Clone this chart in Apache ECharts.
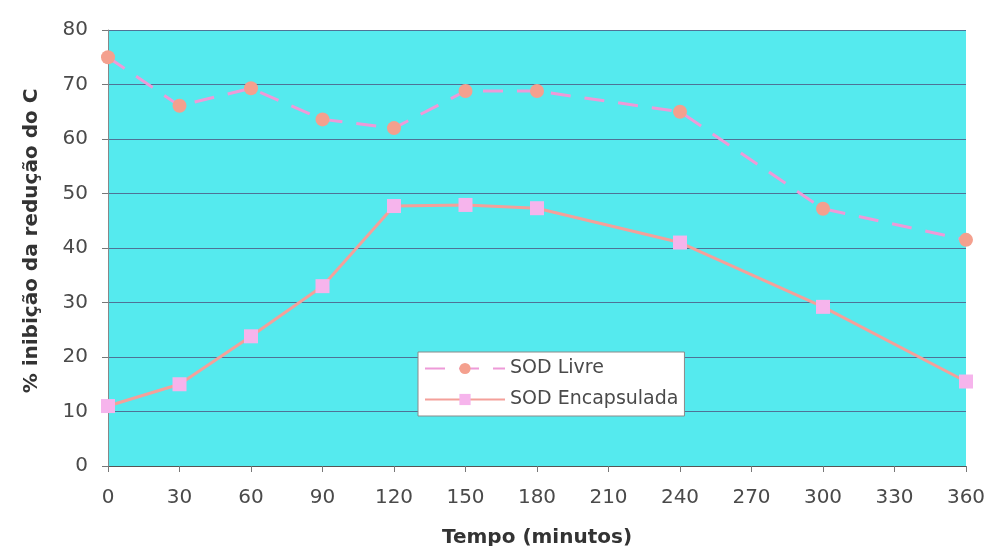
<!DOCTYPE html>
<html>
<head>
<meta charset="utf-8">
<script src="https://cdn.jsdelivr.net/npm/echarts@6/dist/echarts.min.js"></script>
<style>html,body{margin:0;padding:0;background:#fff;}#c{width:987px;height:546px;}</style>
</head>
<body>
<div id="c"></div>
<script>
var minutes = [0, 30, 60, 90, 120, 150, 180, 240, 300, 360];
var sodLivre = [75.0, 66.1, 69.3, 63.6, 62.0, 68.8, 68.8, 65.0, 47.2, 41.5];
var sodEncapsulada = [11.0, 15.0, 23.8, 33.0, 47.7, 47.9, 47.3, 41.0, 29.2, 15.5];
var seriesNames = ['SOD Livre', 'SOD Encapsulada'];
var xTitle = 'Tempo (minutos)';
var yTitle = '% inibição da redução do C';

function pairs(xs, ys) { return xs.map(function (x, i) { return [x, ys[i]]; }); }

var chart = echarts.init(document.getElementById('c'));
var font = 'DejaVu Sans, sans-serif';
chart.setOption({
  animation: false,
  backgroundColor: '#ffffff',
  textStyle: { fontFamily: font },
  grid: { left: 108, right: 21, top: 30, bottom: 80, show: true, backgroundColor: '#55eaee', borderWidth: 0, outerBoundsMode: 'none', containLabel: false },
  legend: {
    orient: 'vertical', left: 418, top: 352,
    backgroundColor: '#ffffff', borderColor: '#8a8a8a', borderWidth: 1,
    padding: [7, 6, 7, 6], itemGap: 12, itemWidth: 80, itemHeight: 14,
    textStyle: { fontSize: 19, color: '#4a4a4a', fontFamily: font, padding: [0, 0, 0, 0] },
    data: seriesNames
  },
  xAxis: {
    type: 'value', min: 0, max: 360, interval: 30,
    name: xTitle, nameLocation: 'middle', nameGap: 62,
    nameTextStyle: { fontSize: 20, fontWeight: 'bold', color: '#333', fontFamily: font },
    axisLine: { show: true, lineStyle: { color: '#555', width: 1 } },
    axisTick: { show: true, length: 6, lineStyle: { color: '#777' } },
    axisLabel: { fontSize: 20, color: '#4a4a4a', margin: 22, fontFamily: font },
    splitLine: { show: false }
  },
  yAxis: {
    type: 'value', min: 0, max: 80, interval: 10,
    name: yTitle, nameLocation: 'middle', nameGap: 66, nameRotate: 90,
    nameTextStyle: { fontSize: 20, fontWeight: 'bold', color: '#333', fontFamily: font, padding: [0, 0, 0, 14] },
    axisLine: { show: true, lineStyle: { color: '#888', width: 1 } },
    axisTick: { show: true, length: 6, lineStyle: { color: '#777' } },
    axisLabel: { fontSize: 20, color: '#4a4a4a', margin: 20, fontFamily: font },
    splitLine: { show: true, lineStyle: { color: '#4f7296', width: 1 } }
  },
  series: [
    {
      name: seriesNames[0], type: 'line', data: pairs(minutes, sodLivre),
      symbol: 'circle', symbolSize: 14,
      itemStyle: { color: '#f4a08e' },
      lineStyle: { color: '#ee9ad8', width: 3, type: [20, 14] }
    },
    {
      name: seriesNames[1], type: 'line', data: pairs(minutes, sodEncapsulada),
      symbol: 'rect', symbolSize: 14,
      itemStyle: { color: '#f6b4ec' },
      lineStyle: { color: '#f4a09a', width: 3 }
    }
  ]
});
</script>
</body>
</html>
